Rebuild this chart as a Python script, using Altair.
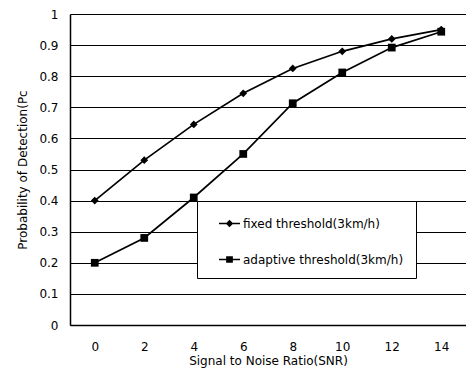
import altair as alt
import pandas as pd

snr = [0, 2, 4, 6, 8, 10, 12, 14]
fixed = [0.40, 0.53, 0.645, 0.745, 0.825, 0.88, 0.92, 0.95]
adaptive = [0.20, 0.28, 0.41, 0.55, 0.713, 0.812, 0.892, 0.943]
series_names = ["fixed threshold(3km/h)", "adaptive threshold(3km/h)"]
y_ticks = [0, 0.1, 0.2, 0.3, 0.4, 0.5, 0.6, 0.7, 0.8, 0.9, 1]

rows = []
for s, vals in zip(series_names, [fixed, adaptive]):
    for x, v in zip(snr, vals):
        rows.append({"snr": x, "pd": v, "series": s})
df = pd.DataFrame(rows)

FONT = "DejaVu Sans"

x_enc = alt.X(
    "snr:O",
    sort=snr,
    scale=alt.Scale(type="band", paddingInner=0, paddingOuter=0),
    axis=alt.Axis(
        title="Signal to Noise Ratio(SNR)",
        labelAngle=0,
        tickBand="extent",
        ticks=False,
        tickSize=0,
        labelPadding=16,
        titlePadding=3,
        domainColor="black",
        domainWidth=1.5,
        grid=False,
    ),
)
y_enc = alt.Y(
    "pd:Q",
    scale=alt.Scale(domain=[0, 1], nice=False, zero=True),
    axis=alt.Axis(
        title="Probability of Detection(Pc",
        values=y_ticks,
        format="~g",
        ticks=False,
        tickSize=0,
        labelPadding=12,
        titlePadding=9,
        grid=True,
        gridColor="black",
        gridWidth=1,
        gridOpacity=1,
        domainColor="black",
        domainWidth=1.5,
    ),
)

lines = alt.Chart(df).mark_line(color="black", strokeWidth=1.7).encode(
    x=x_enc, y=y_enc, detail="series:N"
)

points = alt.Chart(df).mark_point(filled=True, color="black", opacity=1, size=60).encode(
    x=x_enc,
    y=y_enc,
    shape=alt.Shape(
        "series:N",
        sort=series_names,
        scale=alt.Scale(domain=series_names, range=["diamond", "square"]),
        legend=None,
    ),
)

diamond_path = ("M-1,-0.07L1,-0.07L1,0.07L-1,0.07Z"
                "M0,-0.36L0.36,0L0,0.36L-0.36,0Z")
square_path = ("M-1,-0.07L1,-0.07L1,0.07L-1,0.07Z"
               "M-0.32,-0.32L0.32,-0.32L0.32,0.32L-0.32,0.32Z")

legend_carrier = alt.Chart(df).mark_point(filled=True, color="black", opacity=0, size=441).encode(
    x=x_enc,
    y=y_enc,
    shape=alt.Shape(
        "series:N",
        sort=series_names,
        scale=alt.Scale(domain=series_names, range=[diamond_path, square_path]),
        legend=alt.Legend(
            title=None,
            orient="none",
            legendX=127,
            legendY=187,
            fillColor="white",
            strokeColor="black",
            padding=12,
            rowPadding=19,
            symbolSize=441,
            symbolOffset=10,
            symbolOpacity=1,
            symbolFillColor="black",
            symbolStrokeColor="black",
            symbolStrokeWidth=0,
            labelFont=FONT,
            labelFontSize=12,
            labelColor="black",
            labelOffset=3,
            labelLimit=300,
        ),
    ),
)

chart = (
    alt.layer(lines, points, legend_carrier)
    .resolve_scale(shape="independent")
    .properties(
        width=396,
        height=311,
        autosize=alt.AutoSizeParams(type="none"),
        padding={"left": 62, "top": 6, "right": 0, "bottom": 44},
        background="white",
    )
    .configure_view(stroke=None)
    .configure_axis(
        labelFont=FONT,
        labelFontSize=12,
        labelColor="black",
        titleFont=FONT,
        titleFontSize=12,
        titleFontWeight="normal",
        titleColor="black",
    )
)

chart.save("out.html", embed_options={"renderer": "svg", "actions": False})
